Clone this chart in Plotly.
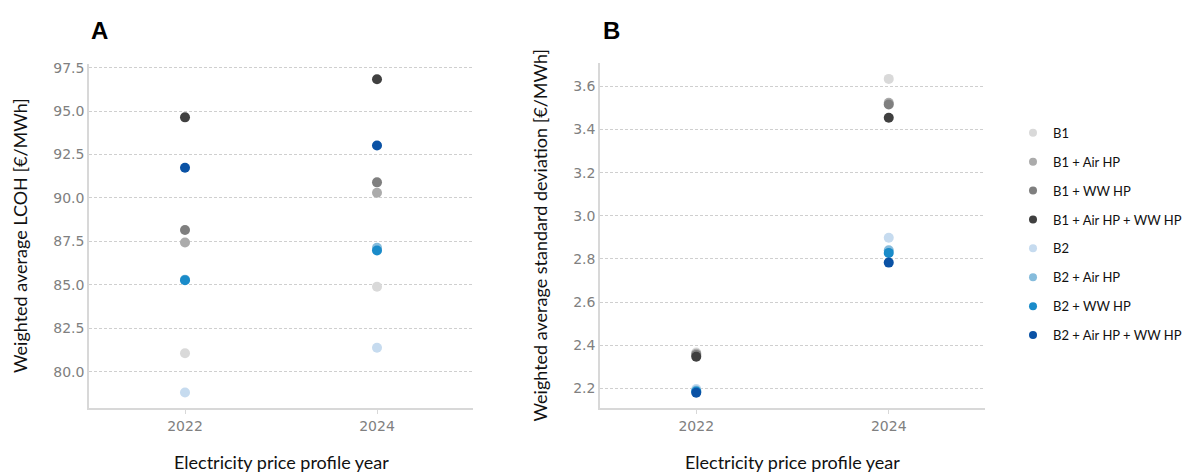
import plotly.graph_objects as go

W, H = 1189, 475

years = [2022, 2024]
series = ["B1", "B1 + Air HP", "B1 + WW HP", "B1 + Air HP + WW HP",
          "B2", "B2 + Air HP", "B2 + WW HP", "B2 + Air HP + WW HP"]
colors = ["#d9d9d9", "#ababab", "#7f7f7f", "#404040",
          "#c6dbef", "#86bcdc", "#1a8bc9", "#0a52a5"]

# Panel A: weighted average LCOH [€/MWh] for 2022, 2024
lcoh = {
    "B1": [81.06, 84.89],
    "B1 + Air HP": [87.44, 90.30],
    "B1 + WW HP": [88.16, 90.90],
    "B1 + Air HP + WW HP": [94.64, 96.83],
    "B2": [78.81, 81.38],
    "B2 + Air HP": [85.30, 87.13],
    "B2 + WW HP": [85.27, 86.98],
    "B2 + Air HP + WW HP": [91.74, 93.02],
}
# Panel B: weighted average standard deviation [€/MWh]
stdev = {
    "B1": [2.366, 3.635],
    "B1 + Air HP": [2.360, 3.524],
    "B1 + WW HP": [2.355, 3.516],
    "B1 + Air HP + WW HP": [2.346, 3.455],
    "B2": [2.197, 2.898],
    "B2 + Air HP": [2.190, 2.840],
    "B2 + WW HP": [2.185, 2.828],
    "B2 + Air HP + WW HP": [2.179, 2.783],
}

fig = go.Figure()
for i, (name, col) in enumerate(zip(series, colors)):
    fig.add_trace(go.Scatter(x=years, y=lcoh[name], mode="markers", name=name,
                             legendgroup=name, showlegend=False,
                             marker=dict(color=col, size=10, line=dict(width=0)),
                             xaxis="x", yaxis="y"))
    fig.add_trace(go.Scatter(x=years, y=stdev[name], mode="markers", name=name,
                             legendgroup=name, showlegend=False,
                             marker=dict(color=col, size=10, line=dict(width=0)),
                             xaxis="x2", yaxis="y2"))
    # legend-only entry (smaller symbol, like the reference legend)
    fig.add_trace(go.Scatter(x=[None], y=[None], mode="markers", name=name,
                             legendgroup=name, showlegend=True,
                             marker=dict(color=col, size=8, line=dict(width=0)),
                             xaxis="x", yaxis="y"))

def px(x):
    return x / W

def py(y):
    return 1 - y / H

tickfont = dict(family="DejaVu Sans", size=14, color="#808080")
axcol = "#d8d8d8"
gridcol = "#cfcfcf"

common_x = dict(range=[2021, 2025], tickvals=years, ticktext=[str(y) for y in years],
                showgrid=False, showline=True, linecolor=axcol, linewidth=1.5,
                ticks="outside", ticklen=5, tickcolor=axcol, tickfont=tickfont,
                zeroline=False, fixedrange=True)
common_y = dict(showgrid=True, gridcolor=gridcol, griddash="3px,2px", gridwidth=1,
                showline=True, linecolor=axcol, linewidth=1.5, ticks="",
                tickfont=tickfont, zeroline=False, tickformat=".1f")

fig.update_layout(
    width=W, height=H,
    margin=dict(l=0, r=0, t=0, b=0),
    paper_bgcolor="white", plot_bgcolor="white",
    xaxis=dict(domain=[px(89), px(473)], anchor="y", **common_x),
    yaxis=dict(domain=[py(407), py(60)], anchor="x", range=[77.93, 97.69],
               tick0=80, dtick=2.5, **common_y),
    xaxis2=dict(domain=[px(600), px(985)], anchor="y2", **common_x),
    yaxis2=dict(domain=[py(407), py(59)], anchor="x2", range=[2.11, 3.707],
                tick0=2.2, dtick=0.2, **common_y),
    legend=dict(x=px(1013), y=py(114), xanchor="left", yanchor="top",
                font=dict(family="Lato", size=13, color="#111111"),
                tracegroupgap=9, bgcolor="rgba(0,0,0,0)"),
    showlegend=True,
)

title_font = dict(family="Lato", size=18, color="#111111")
anns = [
    dict(text="<b>A</b>", x=px(89), y=py(26), xanchor="left", yanchor="middle",
         font=dict(family="Liberation Sans", size=24, color="black")),
    dict(text="<b>B</b>", x=px(601), y=py(26), xanchor="left", yanchor="middle",
         font=dict(family="Liberation Sans", size=24, color="black")),
    dict(text="Weighted average LCOH [€/MWh]", x=px(20), y=py(233.5), textangle=-90,
         xanchor="center", yanchor="middle", font=title_font),
    dict(text="Weighted average standard deviation [€/MWh]", x=px(540), y=py(233),
         textangle=-90, xanchor="center", yanchor="middle", font=title_font),
    dict(text="Electricity price profile year", x=px(281), y=py(462),
         xanchor="center", yanchor="middle", font=title_font),
    dict(text="Electricity price profile year", x=px(792.5), y=py(462),
         xanchor="center", yanchor="middle", font=title_font),
]
for a in anns:
    fig.add_annotation(xref="paper", yref="paper", showarrow=False, **a)

fig.write_html("out.html")
